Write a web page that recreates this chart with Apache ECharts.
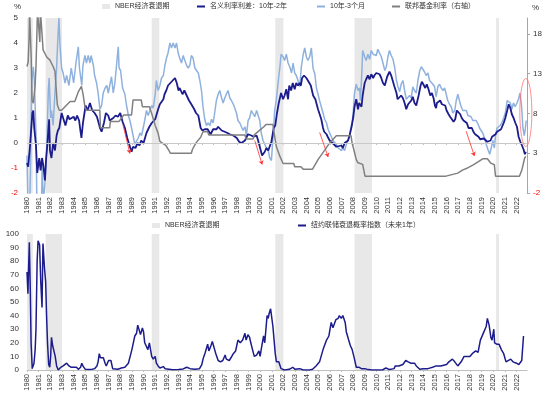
<!DOCTYPE html>
<html><head><meta charset="utf-8">
<script src="https://cdn.jsdelivr.net/npm/echarts@6/dist/echarts.min.js"></script>
<style>html,body{margin:0;padding:0;background:#fff}#c{width:550px;height:397px}</style>
</head><body><div id="c"></div>
<script>
const yearLabels = ['1980','1981','1982','1983','1984','1985','1986','1987','1988','1989','1990','1991','1992','1993','1994','1995','1996','1997','1998','1999','2000','2001','2002','2003','2004','2005','2006','2007','2008','2009','2010','2011','2012','2013','2014','2015','2016','2017','2018','2019','2020','2021','2022'];
const recessionStart = [1980.0, 1981.6, 1990.7, 2001.3, 2008.1, 2020.25];
const recessionEnd   = [1980.5, 1983.0, 1991.35, 2002.0, 2009.6, 2020.5];

// 名义利率利差：10年-2年 [year, %]
const spread10y2y = [[1980.0,-0.8],[1980.1,-0.95],[1980.26,-0.1],[1980.4,0.8],[1980.46,1.2],[1980.54,1.3],[1980.62,0.6],[1980.77,-0.1],[1980.88,-1.2],[1981.05,-0.6],[1981.17,-1.1],[1981.29,-0.6],[1981.4,-0.9],[1981.54,-1.5],[1981.63,-0.7],[1981.74,-0.1],[1981.9,0.95],[1981.97,-0.3],[1982.1,-0.6],[1982.24,0.0],[1982.4,-0.3],[1982.54,0.3],[1982.65,0.5],[1982.77,0.6],[1982.97,1.2],[1983.1,1.0],[1983.3,0.7],[1983.5,1.1],[1983.65,0.95],[1983.8,1.0],[1984.0,1.05],[1984.15,0.9],[1984.3,1.1],[1984.47,0.9],[1984.58,0.5],[1984.67,0.2],[1984.8,0.8],[1985.03,1.5],[1985.2,1.3],[1985.4,1.6],[1985.5,1.45],[1985.6,1.3],[1985.8,1.2],[1986.0,1.05],[1986.15,0.8],[1986.26,0.6],[1986.4,0.45],[1986.6,0.8],[1986.77,1.2],[1986.97,1.1],[1987.1,0.9],[1987.25,0.95],[1987.4,1.0],[1987.6,1.1],[1987.8,1.05],[1988.0,1.2],[1988.2,0.85],[1988.4,0.6],[1988.6,0.2],[1988.8,-0.1],[1988.97,-0.35],[1989.1,-0.15],[1989.3,-0.2],[1989.5,0.0],[1989.65,-0.1],[1989.8,0.1],[1990.0,0.0],[1990.25,0.4],[1990.5,0.65],[1990.7,0.8],[1990.83,0.75],[1991.0,0.95],[1991.25,1.35],[1991.4,1.55],[1991.55,1.5],[1991.7,1.75],[1991.8,1.95],[1991.95,2.1],[1992.1,2.3],[1992.3,2.4],[1992.5,2.5],[1992.7,2.6],[1992.85,2.4],[1993.0,2.1],[1993.1,2.2],[1993.34,1.95],[1993.5,2.1],[1993.7,1.9],[1993.9,1.7],[1994.1,1.55],[1994.2,1.5],[1994.35,1.35],[1994.5,1.2],[1994.7,1.1],[1994.8,1.05],[1994.9,0.6],[1995.05,0.5],[1995.25,0.55],[1995.5,0.55],[1995.75,0.35],[1995.97,0.55],[1996.26,0.55],[1996.4,0.65],[1996.7,0.5],[1996.97,0.45],[1997.2,0.4],[1997.4,0.35],[1997.7,0.3],[1998.0,0.2],[1998.2,0.05],[1998.4,0.0],[1998.7,0.1],[1998.96,0.35],[1999.25,0.3],[1999.45,0.25],[1999.7,0.3],[1999.8,0.15],[2000.0,-0.2],[2000.17,-0.5],[2000.4,-0.35],[2000.54,-0.2],[2000.7,-0.3],[2000.97,0.05],[2001.17,0.6],[2001.3,0.7],[2001.45,1.2],[2001.6,1.6],[2001.8,2.0],[2001.97,1.75],[2002.1,1.9],[2002.25,2.15],[2002.4,1.75],[2002.5,2.3],[2002.66,2.1],[2002.8,2.4],[2002.97,2.15],[2003.1,2.4],[2003.25,2.3],[2003.4,2.4],[2003.5,2.3],[2003.6,2.6],[2003.77,2.7],[2003.97,2.6],[2004.1,2.5],[2004.35,2.3],[2004.55,1.9],[2004.74,1.75],[2004.97,1.35],[2005.25,0.95],[2005.4,0.6],[2005.5,0.45],[2005.7,0.35],[2005.8,0.25],[2005.97,0.1],[2006.1,0.15],[2006.33,-0.05],[2006.54,-0.15],[2006.7,-0.2],[2006.97,-0.1],[2007.1,-0.2],[2007.25,0.0],[2007.4,0.0],[2007.55,0.1],[2007.7,0.35],[2007.85,0.65],[2008.0,1.05],[2008.1,1.45],[2008.25,1.75],[2008.4,1.35],[2008.5,1.6],[2008.7,1.45],[2008.8,1.9],[2008.97,2.4],[2009.1,2.55],[2009.25,2.7],[2009.4,2.55],[2009.54,2.75],[2009.7,2.6],[2009.8,2.7],[2009.97,2.8],[2010.1,2.85],[2010.25,2.75],[2010.4,2.6],[2010.54,2.4],[2010.7,2.3],[2010.9,2.65],[2011.1,2.85],[2011.25,2.7],[2011.4,2.65],[2011.5,2.3],[2011.7,2.0],[2011.8,1.75],[2011.97,1.7],[2012.1,1.9],[2012.25,1.8],[2012.4,1.6],[2012.54,1.35],[2012.7,1.55],[2012.8,1.5],[2012.97,1.7],[2013.1,1.85],[2013.25,1.6],[2013.4,1.5],[2013.6,1.9],[2013.77,2.3],[2013.88,2.45],[2014.0,2.35],[2014.17,2.2],[2014.3,2.35],[2014.45,2.15],[2014.6,1.9],[2014.74,2.0],[2014.88,1.8],[2015.0,1.5],[2015.1,1.4],[2015.17,1.6],[2015.3,1.65],[2015.45,1.7],[2015.6,1.55],[2015.74,1.6],[2015.88,1.5],[2016.0,1.3],[2016.17,1.15],[2016.3,1.05],[2016.45,0.95],[2016.6,0.85],[2016.74,0.95],[2016.88,1.3],[2017.0,1.25],[2017.17,1.15],[2017.3,1.0],[2017.45,0.9],[2017.6,0.9],[2017.74,0.8],[2017.88,0.6],[2018.0,0.55],[2018.17,0.6],[2018.3,0.45],[2018.45,0.35],[2018.6,0.3],[2018.74,0.25],[2018.88,0.15],[2019.0,0.2],[2019.2,0.18],[2019.34,0.12],[2019.5,0.05],[2019.63,-0.02],[2019.77,0.1],[2019.9,0.25],[2020.05,0.2],[2020.2,0.35],[2020.33,0.45],[2020.47,0.4],[2020.67,0.55],[2020.9,0.8],[2021.04,1.0],[2021.2,1.3],[2021.33,1.55],[2021.47,1.4],[2021.6,1.15],[2021.75,1.0],[2021.9,0.8],[2022.04,0.65],[2022.18,0.25],[2022.33,0.05],[2022.47,-0.1],[2022.6,-0.25],[2022.72,-0.45],[2022.8,-0.35]];

// 10年-3个月 [year, %]
const spread10y3m = [[1980.0,-0.5],[1980.08,-2.5],[1980.2,-3.5],[1980.3,-1.0],[1980.4,2.4],[1980.54,3.05],[1980.63,2.5],[1980.77,0.4],[1980.85,-2.5],[1980.95,-3.0],[1981.1,-2.4],[1981.25,-2.6],[1981.3,-0.8],[1981.4,-2.4],[1981.54,-1.6],[1981.7,-0.1],[1981.83,2.1],[1981.9,2.6],[1982.03,1.0],[1982.1,1.3],[1982.24,0.7],[1982.4,2.0],[1982.54,3.0],[1982.63,4.0],[1982.74,5.0],[1982.83,3.9],[1982.97,3.0],[1983.1,2.8],[1983.26,2.4],[1983.4,2.7],[1983.6,2.3],[1983.8,3.0],[1984.0,2.4],[1984.2,3.2],[1984.4,3.85],[1984.5,3.0],[1984.7,2.3],[1984.8,3.1],[1984.97,3.5],[1985.1,3.2],[1985.25,3.5],[1985.4,3.2],[1985.5,3.5],[1985.7,3.1],[1985.8,2.7],[1985.97,2.4],[1986.1,2.0],[1986.26,1.35],[1986.4,1.5],[1986.54,2.0],[1986.7,2.2],[1986.85,2.3],[1986.97,2.0],[1987.1,2.3],[1987.25,2.65],[1987.4,2.0],[1987.54,2.4],[1987.7,3.2],[1987.83,3.85],[1987.9,3.0],[1988.03,2.9],[1988.2,2.2],[1988.4,1.95],[1988.54,1.5],[1988.7,1.1],[1988.83,0.9],[1988.97,0.6],[1989.1,0.3],[1989.25,-0.05],[1989.4,0.0],[1989.54,0.2],[1989.7,0.4],[1989.83,0.3],[1989.97,0.6],[1990.1,0.9],[1990.25,1.3],[1990.4,1.1],[1990.54,1.3],[1990.7,1.5],[1990.83,1.4],[1991.0,1.95],[1991.1,2.5],[1991.25,2.1],[1991.4,2.3],[1991.54,2.6],[1991.7,2.7],[1991.83,3.1],[1991.97,3.4],[1992.1,3.6],[1992.26,4.0],[1992.4,3.8],[1992.54,4.0],[1992.7,3.8],[1992.83,4.0],[1992.97,3.6],[1993.1,3.4],[1993.25,3.2],[1993.4,3.5],[1993.54,3.3],[1993.7,3.1],[1993.83,3.0],[1993.97,3.1],[1994.1,3.5],[1994.25,3.4],[1994.4,3.0],[1994.54,3.05],[1994.7,2.8],[1994.83,2.5],[1994.97,2.1],[1995.1,1.45],[1995.25,0.95],[1995.4,0.7],[1995.54,0.8],[1995.7,0.7],[1995.83,0.95],[1995.97,0.8],[1996.1,1.2],[1996.25,1.7],[1996.4,1.95],[1996.54,2.1],[1996.7,1.8],[1996.83,1.6],[1996.97,1.8],[1997.1,1.95],[1997.25,2.1],[1997.4,1.8],[1997.54,1.7],[1997.7,1.55],[1997.83,1.4],[1997.97,1.2],[1998.1,0.9],[1998.26,0.8],[1998.4,0.65],[1998.54,0.5],[1998.7,0.65],[1998.83,0.3],[1998.97,0.9],[1999.1,1.0],[1999.25,1.3],[1999.4,1.35],[1999.54,1.05],[1999.7,1.3],[1999.83,1.35],[1999.97,0.9],[2000.1,0.4],[2000.25,0.1],[2000.4,-0.05],[2000.54,-0.2],[2000.7,-0.3],[2000.83,-0.6],[2000.97,-0.7],[2001.05,-0.15],[2001.17,0.6],[2001.25,1.3],[2001.4,1.75],[2001.54,2.4],[2001.7,3.05],[2001.8,3.55],[2001.97,3.45],[2002.1,3.3],[2002.25,3.55],[2002.4,3.2],[2002.54,3.05],[2002.7,2.8],[2002.83,3.2],[2002.97,2.8],[2003.1,2.7],[2003.25,2.5],[2003.4,2.25],[2003.54,3.05],[2003.7,3.55],[2003.83,3.8],[2003.97,3.45],[2004.1,3.3],[2004.25,3.45],[2004.4,3.8],[2004.54,3.0],[2004.7,2.75],[2004.83,2.2],[2004.97,1.95],[2005.1,1.7],[2005.25,1.45],[2005.4,1.2],[2005.54,0.95],[2005.7,0.8],[2005.83,0.55],[2005.97,0.4],[2006.1,0.35],[2006.25,0.1],[2006.4,0.15],[2006.54,-0.05],[2006.7,-0.2],[2006.83,-0.25],[2006.97,-0.3],[2007.1,-0.2],[2007.25,-0.3],[2007.4,-0.05],[2007.54,-0.1],[2007.7,0.3],[2007.77,0.6],[2007.9,0.8],[2008.0,1.3],[2008.1,2.0],[2008.25,2.35],[2008.4,2.1],[2008.54,2.2],[2008.6,1.7],[2008.7,2.5],[2008.8,3.7],[2008.97,3.45],[2009.1,3.3],[2009.25,3.55],[2009.4,3.35],[2009.54,3.7],[2009.7,3.55],[2009.83,3.6],[2009.97,3.5],[2010.1,3.75],[2010.25,3.7],[2010.4,3.45],[2010.54,3.2],[2010.7,2.9],[2010.83,3.05],[2010.97,3.45],[2011.1,3.7],[2011.25,3.5],[2011.4,3.35],[2011.54,3.05],[2011.7,2.5],[2011.83,2.25],[2011.97,2.05],[2012.1,2.35],[2012.25,2.5],[2012.4,2.1],[2012.54,1.75],[2012.7,1.8],[2012.83,1.9],[2012.97,1.8],[2013.1,2.25],[2013.25,2.1],[2013.4,2.0],[2013.54,2.5],[2013.7,2.9],[2013.83,3.05],[2013.97,3.1],[2014.1,2.85],[2014.25,2.7],[2014.4,2.8],[2014.54,2.5],[2014.7,2.55],[2014.83,2.35],[2014.97,2.25],[2015.1,1.85],[2015.25,2.25],[2015.4,2.35],[2015.54,2.2],[2015.7,2.1],[2015.83,2.2],[2015.97,1.95],[2016.1,1.7],[2016.25,1.55],[2016.4,1.45],[2016.54,1.2],[2016.7,1.3],[2016.83,1.7],[2016.97,1.95],[2017.1,1.7],[2017.25,1.45],[2017.4,1.3],[2017.54,1.25],[2017.7,1.3],[2017.83,1.1],[2017.97,1.05],[2018.1,1.05],[2018.25,0.9],[2018.4,0.85],[2018.54,0.9],[2018.7,0.75],[2018.83,0.6],[2018.97,0.55],[2019.1,0.4],[2019.25,0.2],[2019.4,-0.05],[2019.54,-0.25],[2019.7,-0.45],[2019.83,-0.2],[2019.97,0.1],[2020.1,-0.2],[2020.2,0.3],[2020.33,0.6],[2020.47,0.65],[2020.6,0.7],[2020.74,0.8],[2020.9,1.0],[2021.04,1.2],[2021.2,1.7],[2021.33,1.75],[2021.47,1.6],[2021.6,1.35],[2021.74,1.6],[2021.88,1.45],[2022.04,1.6],[2022.17,1.75],[2022.3,2.0],[2022.43,1.5],[2022.55,0.6],[2022.66,0.3],[2022.74,0.5],[2022.83,0.9]];

// 联邦基金利率（右轴） [year, %]
const fedFunds = [[1980.0,13.9],[1980.1,14.5],[1980.18,17.5],[1980.22,21],[1980.3,21],[1980.36,15],[1980.43,9.7],[1980.54,9.3],[1980.69,11.4],[1980.77,13.9],[1980.85,18],[1980.9,21],[1981.05,21],[1981.1,17],[1981.15,21],[1981.3,21],[1981.38,16],[1981.46,16],[1981.69,15.1],[1981.97,14.7],[1982.1,14.9],[1982.24,13.9],[1982.4,13.3],[1982.49,11.4],[1982.6,9.1],[1982.77,8.4],[1982.97,8.4],[1983.26,8.85],[1983.7,9.5],[1984.1,9.5],[1984.4,10.7],[1984.67,11.4],[1984.8,10.5],[1984.97,8.85],[1985.1,8.4],[1986.25,8.4],[1986.3,6.2],[1987.1,6.2],[1987.15,7.0],[1987.9,7.0],[1988.3,7.8],[1988.97,7.8],[1989.1,9.7],[1989.8,9.7],[1989.9,8.85],[1990.5,8.85],[1990.7,8.0],[1991.0,6.5],[1991.25,5.5],[1991.4,4.5],[1991.9,4.0],[1992.2,3.3],[1992.3,3.0],[1994.1,3.0],[1994.2,3.5],[1994.5,4.3],[1994.9,5.0],[1995.1,5.7],[1995.5,5.7],[1995.6,5.3],[1998.7,5.3],[1998.8,4.8],[1999.4,4.8],[1999.5,5.3],[1999.97,5.9],[2000.3,6.3],[2000.5,6.6],[2001.1,6.6],[2001.25,5.1],[2001.4,3.8],[2001.7,2.6],[2001.97,1.7],[2002.9,1.7],[2002.97,1.3],[2003.5,1.3],[2003.7,1.0],[2004.5,1.0],[2004.97,2.2],[2005.5,3.3],[2005.97,4.3],[2006.54,5.2],[2007.8,5.2],[2007.9,4.25],[2008.05,3.4],[2008.25,2.2],[2008.4,1.8],[2008.8,1.6],[2009.0,0.12],[2015.95,0.12],[2016.0,0.35],[2016.96,0.5],[2017.4,0.9],[2017.8,1.15],[2018.25,1.5],[2018.7,1.9],[2019.1,2.3],[2019.5,2.3],[2019.8,1.75],[2020.1,1.55],[2020.2,0.1],[2022.25,0.1],[2022.4,0.3],[2022.46,0.9],[2022.57,1.6],[2022.7,2.4],[2022.8,2.6]];

// 纽约联储衰退概率指数（未来1年） [year, %]
const recessionProb = [[1980.0,72],[1980.08,56],[1980.12,70],[1980.2,94],[1980.28,60],[1980.35,20],[1980.45,1],[1980.6,5],[1980.7,15],[1980.77,30],[1980.87,80],[1980.95,95],[1981.08,92],[1981.18,65],[1981.29,46],[1981.37,93],[1981.5,75],[1981.6,65],[1981.68,40],[1981.76,20],[1981.86,4],[1981.95,2],[1982.03,10],[1982.1,24],[1982.2,18],[1982.3,18],[1982.42,10],[1982.54,3],[1982.68,0],[1982.9,2],[1983.1,3],[1983.25,3],[1983.4,5],[1983.6,3],[1983.8,2],[1984.0,2],[1984.25,2],[1984.4,0.5],[1984.6,2],[1984.7,5],[1984.8,3],[1985.0,0.5],[1985.3,0.3],[1985.6,0.5],[1985.8,1],[1986.0,3],[1986.1,6],[1986.2,12],[1986.3,9],[1986.4,8],[1986.55,9],[1986.7,5],[1986.8,3],[1986.9,5],[1987.0,7],[1987.2,7],[1987.35,1],[1987.5,1.5],[1987.8,0.5],[1988.1,1.5],[1988.4,2],[1988.7,5],[1988.85,10],[1989.0,15],[1989.15,21],[1989.25,25],[1989.4,27],[1989.5,33],[1989.6,32],[1989.74,26],[1989.9,31],[1990.0,28],[1990.1,20],[1990.25,20],[1990.37,15],[1990.5,20],[1990.6,15],[1990.7,10],[1990.83,8],[1991.0,10],[1991.1,5],[1991.25,3],[1991.4,1.5],[1991.55,1.5],[1991.7,2.5],[1991.85,1],[1992.0,0.5],[1992.5,0.2],[1993.0,0.3],[1993.4,0.8],[1993.7,2],[1994.0,1],[1994.4,0.5],[1994.8,1],[1995.0,4],[1995.1,8],[1995.3,13],[1995.5,19],[1995.6,14],[1995.75,17],[1995.9,21],[1996.0,20],[1996.1,15],[1996.2,12],[1996.4,7],[1996.6,6],[1996.8,7],[1997.0,11],[1997.1,8],[1997.2,9],[1997.35,7],[1997.5,9],[1997.7,12],[1997.8,11],[1997.9,14],[1998.0,18],[1998.1,22],[1998.2,22],[1998.3,20],[1998.5,22],[1998.6,23],[1998.7,27],[1998.8,22],[1998.96,26],[1999.1,24],[1999.2,20],[1999.35,15],[1999.5,10],[1999.7,11],[1999.8,11],[1999.9,14],[2000.0,10],[2000.15,18],[2000.3,25],[2000.4,20],[2000.5,30],[2000.6,40],[2000.7,38],[2000.76,41],[2000.9,45],[2001.0,46],[2001.1,32],[2001.2,22],[2001.3,12],[2001.4,6],[2001.6,6],[2001.8,1],[2002.1,0],[2002.5,0.5],[2002.8,2],[2003.0,0.5],[2003.4,1],[2003.55,1.5],[2003.7,0],[2004.25,0],[2004.5,0.5],[2004.8,3],[2005.1,6],[2005.4,15],[2005.7,22],[2005.9,25],[2006.0,30],[2006.1,35],[2006.25,31],[2006.4,32],[2006.5,37],[2006.7,38],[2006.8,40],[2006.96,38],[2007.1,40],[2007.16,41],[2007.3,35],[2007.4,28],[2007.5,25],[2007.6,22],[2007.74,18],[2007.9,15],[2008.1,8],[2008.25,2],[2008.5,2],[2008.7,1],[2009.0,1],[2009.25,0.3],[2009.6,0],[2010.0,0],[2010.5,0],[2010.8,1.5],[2011.1,0.3],[2011.5,1],[2011.6,3],[2011.9,3],[2012.25,4],[2012.5,7],[2012.7,6],[2012.96,5],[2013.25,5],[2013.4,3],[2013.7,0.5],[2014.0,1],[2014.4,1],[2014.8,2],[2015.1,3],[2015.25,2.5],[2015.5,3],[2016.0,4],[2016.2,6],[2016.5,8],[2016.7,6],[2016.96,3],[2017.25,6],[2017.5,10],[2017.8,10],[2018.0,10],[2018.2,12],[2018.5,14],[2018.7,13],[2018.9,22],[2019.2,28],[2019.4,32],[2019.5,38],[2019.65,33],[2019.8,24],[2019.9,22],[2020.05,30],[2020.12,20],[2020.3,19],[2020.5,19],[2020.7,15],[2020.9,12],[2021.1,6],[2021.25,6],[2021.5,8],[2021.7,6],[2022.0,5],[2022.2,4],[2022.35,3.5],[2022.45,7],[2022.6,25]];

// red annotation arrows (data coordinates on left axis)
const arrowFrom = [[1988.23,0.74],[1999.54,0.1],[2005.11,0.42],[2017.68,0.47]];
const arrowTo   = [[1988.83,-0.42],[2000.18,-0.86],[2005.84,-0.56],[2018.39,-0.52]];
const ellipseCenter = [2022.8, 1.22];

const FONT = '"Liberation Sans", Arial, "Noto Sans CJK SC", sans-serif';
const txt = '#333333';
const NAVY = '#1c1c8c', LIGHT = '#8fb1de', GRAY = '#808080', SHADE = '#e8e8e8';

const recAreas = recessionStart.map((s, i) => [{xAxis: s}, {xAxis: recessionEnd[i]}]);
const negRich = {neg: {color: '#ff0000', fontSize: 8, fontFamily: FONT}};
const negFmt = v => (v < 0 ? '{neg|' + v + '}' : String(v));

const xAxisBase = gi => ({
  type: 'value', gridIndex: gi, min: 1980, max: 2022.9, interval: 1,
  axisLine: {show: true, lineStyle: {color: gi === 0 ? '#e0e0e0' : '#bfbfbf', width: 1}},
  axisTick: {show: true, length: 2, lineStyle: {color: '#bfbfbf'}},
  splitLine: {show: false},
  axisLabel: {rotate: 90, fontSize: 7.5, color: txt, fontFamily: FONT, margin: 4, showMaxLabel: false,
    formatter: v => (yearLabels.indexOf(String(v)) >= 0 ? String(v) : '')}
});

const legendBase = (left, top, name, isBox) => ({
  left: left, top: top, padding: 0, itemWidth: 8, itemHeight: isBox ? 5 : 2, icon: 'rect',
  textStyle: {fontSize: 7, color: txt, fontFamily: FONT}, data: [name]
});

const chart = echarts.init(document.getElementById('c'), null, {renderer: 'canvas'});
chart.setOption({
  animation: false,
  textStyle: {fontFamily: FONT},
  grid: [
    {left: 27, right: 23, top: 18, height: 175},
    {left: 27, right: 23, top: 234, height: 136}
  ],
  legend: [
    legendBase(102, 3, 'NBER经济衰退期', true),
    legendBase(197, 3, '名义利率利差：10年-2年', false),
    legendBase(317, 3, '10年-3个月', false),
    legendBase(392, 3, '联邦基金利率（右轴）', false),
    legendBase(152, 222, 'NBER经济衰退期', true),
    legendBase(298, 222, '纽约联储衰退概率指数（未来1年）', false)
  ],
  xAxis: [xAxisBase(0), xAxisBase(1)],
  yAxis: [
    {type: 'value', gridIndex: 0, min: -2, max: 5, interval: 1,
     axisLine: {show: false}, axisTick: {show: false}, splitLine: {show: false},
     axisLabel: {fontSize: 8, color: txt, margin: 9, formatter: negFmt, rich: negRich}},
    {type: 'value', gridIndex: 0, position: 'right', min: -2, max: 20, interval: 5,
     axisLine: {show: true, lineStyle: {color: '#a6a6a6'}},
     axisTick: {show: true, length: 3, lineStyle: {color: '#a6a6a6'}},
     splitLine: {show: false},
     axisLabel: {fontSize: 8, color: txt, margin: 6, showMaxLabel: false, formatter: negFmt, rich: negRich}},
    {type: 'value', gridIndex: 1, min: 0, max: 100, interval: 10,
     axisLine: {show: false}, axisTick: {show: false}, splitLine: {show: false},
     axisLabel: {fontSize: 8, color: txt, margin: 8}}
  ],
  series: [
    {name: 'NBER经济衰退期', type: 'bar', xAxisIndex: 0, yAxisIndex: 0, data: [], z: 0,
     itemStyle: {color: SHADE},
     markArea: {silent: true, itemStyle: {color: SHADE}, data: recAreas}},
    {name: '10年-3个月', type: 'line', xAxisIndex: 0, yAxisIndex: 0, data: spread10y3m,
     symbol: 'none', lineStyle: {color: LIGHT, width: 1.5}, itemStyle: {color: LIGHT}, z: 2,
     markLine: {silent: true, symbol: 'none', label: {show: false},
       lineStyle: {color: '#c8c8c8', width: 1, type: 'solid'}, data: [{yAxis: 0}]}},
    {name: '名义利率利差：10年-2年', type: 'line', xAxisIndex: 0, yAxisIndex: 0, data: spread10y2y,
     symbol: 'none', lineStyle: {color: NAVY, width: 1.8}, itemStyle: {color: NAVY}, z: 3,
     markLine: {silent: true, symbol: ['none', 'arrow'], symbolSize: 4, label: {show: false},
       lineStyle: {color: '#ff3030', width: 0.8, type: 'solid'},
       data: arrowFrom.map((p, i) => [{coord: p}, {coord: arrowTo[i]}])}},
    {name: '联邦基金利率（右轴）', type: 'line', xAxisIndex: 0, yAxisIndex: 1, data: fedFunds,
     symbol: 'none', lineStyle: {color: GRAY, width: 1.5}, itemStyle: {color: GRAY}, z: 4},
    {name: 'NBER经济衰退期', type: 'bar', xAxisIndex: 1, yAxisIndex: 2, data: [], z: 0,
     itemStyle: {color: SHADE},
     markArea: {silent: true, itemStyle: {color: SHADE}, data: recAreas}},
    {name: '纽约联储衰退概率指数（未来1年）', type: 'line', xAxisIndex: 1, yAxisIndex: 2, data: recessionProb,
     symbol: 'none', lineStyle: {color: NAVY, width: 1.5}, itemStyle: {color: NAVY}, z: 3}
  ]
});

const c = chart.convertToPixel({xAxisIndex: 0, yAxisIndex: 0}, ellipseCenter);
chart.setOption({
  graphic: [
    {type: 'text', left: 14, top: 3, style: {text: '%', fontSize: 8, fill: txt, fontFamily: FONT}},
    {type: 'text', left: 532, top: 4, style: {text: '%', fontSize: 8, fill: txt, fontFamily: FONT}},
    {type: 'ellipse', shape: {cx: c[0], cy: c[1], rx: 6, ry: 34},
     style: {fill: null, stroke: '#ff7070', lineWidth: 0.8}, z: 100}
  ]
});
</script>
</body></html>
